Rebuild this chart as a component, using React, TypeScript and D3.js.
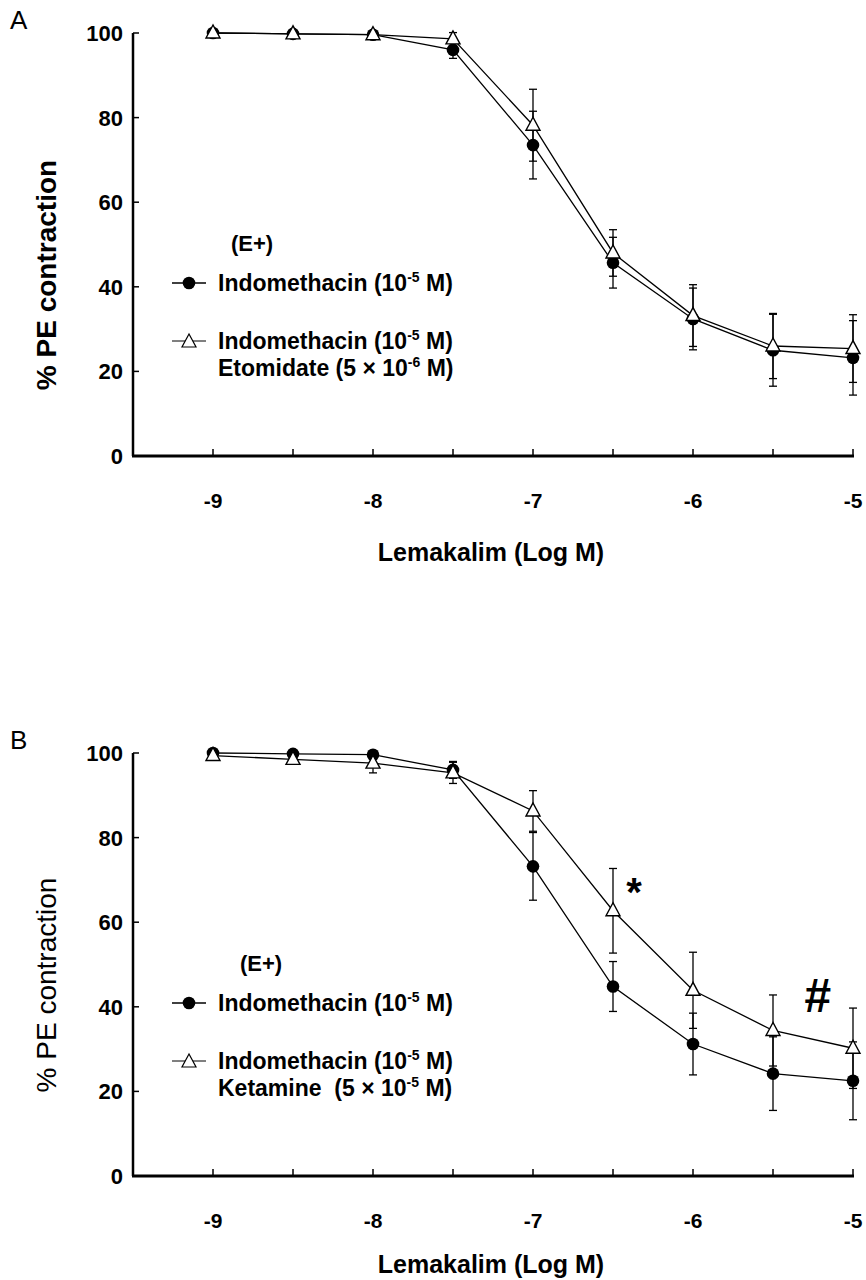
import React, { useEffect, useRef } from 'react';
import * as d3 from 'd3';

// Lemakalim dose (log M)
const doses = [-9, -8.5, -8, -7.5, -7, -6.5, -6, -5.5, -5];
const xTickValues = [-9, -8.5, -8, -7.5, -7, -6.5, -6, -5.5, -5];
const xTickLabels = [-9, -8, -7, -6, -5];
const yTickValues = [0, 20, 40, 60, 80, 100];

// Panel A: indomethacin vs indomethacin + etomidate
const aIndoMean = [100, 99.8, 99.6, 96, 73.5, 45.7, 32.4, 25, 23.2];
const aIndoErr = [0, 0, 0, 2, 8, 6, 7.3, 8.5, 8.8];
const aEtoMean = [100, 99.8, 99.6, 98.6, 78.2, 48, 33.2, 26, 25.4];
const aEtoErr = [0, 0, 0, 1.5, 8.5, 5.5, 7.3, 7.7, 8];

// Panel B: indomethacin vs indomethacin + ketamine
const bIndoMean = [100, 99.8, 99.6, 96, 73.2, 44.8, 31.2, 24.2, 22.5];
const bIndoErr = [0, 0, 0, 2, 8, 5.9, 7.3, 8.7, 9.2];
const bKetMean = [99.4, 98.5, 97.6, 95.3, 86.3, 62.7, 43.9, 34.4, 30.2];
const bKetErr = [0, 0, 2.3, 2.5, 4.8, 10, 9, 8.4, 9.5];

const FONT = "'Liberation Sans', Arial, Helvetica, sans-serif";

interface PanelOpts {
  letter: string;
  top: number; // pixel of y = 100
  bottom: number; // pixel of y = 0
  yTitleBold: boolean;
  yTitleCenter: number;
  xTitleY: number;
  indoMean: number[];
  indoErr: number[];
  otherMean: number[];
  otherErr: number[];
  legendDrug: string;
  legendDrugExp: string;
  legendDrugEnd: string;
  ePlusX: number;
}

function drawPanel(svg: d3.Selection<SVGSVGElement, unknown, null, undefined>, o: PanelOpts) {
  const x = d3.scaleLinear().domain([-9.5, -5]).range([133, 853]);
  const y = d3.scaleLinear().domain([0, 100]).range([o.bottom, o.top]);
  const g = svg.append('g').attr('font-family', FONT);

  // panel letter
  g.append('text')
    .attr('x', 10).attr('y', o.top - 4)
    .attr('font-size', 26)
    .text(o.letter);

  // y axis
  g.append('line')
    .attr('x1', x(-9.5)).attr('x2', x(-9.5))
    .attr('y1', y(100)).attr('y2', y(0))
    .attr('stroke', '#000').attr('stroke-width', 2.5);
  g.selectAll('.ytick').data(yTickValues).enter().append('line')
    .attr('x1', x(-9.5)).attr('x2', x(-9.5) + 6)
    .attr('y1', d => y(d)).attr('y2', d => y(d))
    .attr('stroke', '#000').attr('stroke-width', 1.5);
  g.selectAll('.ylab').data(yTickValues).enter().append('text')
    .attr('x', 123).attr('y', d => y(d) + 8)
    .attr('text-anchor', 'end')
    .attr('font-size', 22).attr('font-weight', 'bold')
    .text(d => d);

  // x axis
  g.append('line')
    .attr('x1', x(-9.5) - 1).attr('x2', x(-5) + 1)
    .attr('y1', y(0)).attr('y2', y(0))
    .attr('stroke', '#000').attr('stroke-width', 3);
  g.selectAll('.xtick').data(xTickValues).enter().append('line')
    .attr('x1', d => x(d)).attr('x2', d => x(d))
    .attr('y1', y(0)).attr('y2', y(0) - 7)
    .attr('stroke', '#000').attr('stroke-width', 1.5);
  g.selectAll('.xlab').data(xTickLabels).enter().append('text')
    .attr('x', d => x(d)).attr('y', y(0) + 52)
    .attr('text-anchor', 'middle')
    .attr('font-size', 21).attr('font-weight', 'bold')
    .text(d => d);

  // axis titles
  g.append('text')
    .attr('x', 491).attr('y', o.xTitleY)
    .attr('text-anchor', 'middle')
    .attr('font-size', 25).attr('font-weight', 'bold')
    .text('Lemakalim (Log M)');
  g.append('text')
    .attr('transform', `translate(56,${o.yTitleCenter}) rotate(-90)`)
    .attr('text-anchor', 'middle')
    .attr('font-size', 28).attr('font-weight', o.yTitleBold ? 'bold' : 'normal')
    .text('% PE contraction');

  const line = d3.line<number>()
    .x((_, i) => x(doses[i]))
    .y(d => y(d));

  const drawErr = (mean: number[], err: number[]) => {
    const data = mean.map((m, i) => ({ x: doses[i], m, e: err[i] })).filter(d => d.e > 0);
    const eg = g.append('g').attr('stroke', '#000').attr('stroke-width', 1.3);
    eg.selectAll('.v').data(data).enter().append('line')
      .attr('x1', d => x(d.x)).attr('x2', d => x(d.x))
      .attr('y1', d => y(d.m - d.e)).attr('y2', d => y(d.m + d.e));
    eg.selectAll('.t').data(data).enter().append('line')
      .attr('x1', d => x(d.x) - 4).attr('x2', d => x(d.x) + 4)
      .attr('y1', d => y(d.m + d.e)).attr('y2', d => y(d.m + d.e));
    eg.selectAll('.b').data(data).enter().append('line')
      .attr('x1', d => x(d.x) - 4).attr('x2', d => x(d.x) + 4)
      .attr('y1', d => y(d.m - d.e)).attr('y2', d => y(d.m - d.e));
  };

  drawErr(o.indoMean, o.indoErr);
  drawErr(o.otherMean, o.otherErr);

  g.append('path').datum(o.indoMean)
    .attr('d', line).attr('fill', 'none').attr('stroke', '#000').attr('stroke-width', 1.3);
  g.append('path').datum(o.otherMean)
    .attr('d', line).attr('fill', 'none').attr('stroke', '#000').attr('stroke-width', 1.3);

  const tri = (cx: number, cy: number) =>
    `M${cx},${cy - 8}L${cx - 7},${cy + 5}L${cx + 7},${cy + 5}Z`;

  g.selectAll('.dot').data(o.indoMean).enter().append('circle')
    .attr('cx', (_, i) => x(doses[i])).attr('cy', d => y(d))
    .attr('r', 6.3).attr('fill', '#000');
  g.selectAll('.tri').data(o.otherMean).enter().append('path')
    .attr('d', (d, i) => tri(x(doses[i]), y(d)))
    .attr('fill', '#fff').attr('stroke', '#000').attr('stroke-width', 1.4);

  // legend
  const ly0 = y(0) - 173;
  g.append('text')
    .attr('x', o.ePlusX).attr('y', ly0 - 32)
    .attr('font-size', 22).attr('font-weight', 'bold')
    .text('(E+)');

  const lx = 172;
  const legendX = 218;
  g.append('line').attr('x1', lx).attr('x2', lx + 34).attr('y1', ly0).attr('y2', ly0)
    .attr('stroke', '#000').attr('stroke-width', 1.3);
  g.append('circle').attr('cx', lx + 17).attr('cy', ly0).attr('r', 6.3).attr('fill', '#000');
  const addIndo = (ty: number) => {
    const t = g.append('text').attr('x', legendX).attr('y', ty)
      .attr('font-size', 23).attr('font-weight', 'bold');
    t.append('tspan').text('Indomethacin (10');
    t.append('tspan').attr('font-size', 14).attr('dy', -9).text('-5');
    t.append('tspan').attr('dy', 9).text(' M)');
  };
  addIndo(ly0 + 8);

  const ly1 = ly0 + 58;
  g.append('line').attr('x1', lx).attr('x2', lx + 34).attr('y1', ly1).attr('y2', ly1)
    .attr('stroke', '#000').attr('stroke-width', 1);
  g.append('path').attr('d', tri(lx + 17, ly1 + 1))
    .attr('fill', '#fff').attr('stroke', '#000').attr('stroke-width', 1.2);
  addIndo(ly1 + 8);
  const t2 = g.append('text').attr('x', legendX).attr('y', ly1 + 35)
    .attr('font-size', 23).attr('font-weight', 'bold')
    .style('white-space', 'pre');
  t2.append('tspan').text(o.legendDrug);
  t2.append('tspan').attr('font-size', 14).attr('dy', -9).text(o.legendDrugExp);
  t2.append('tspan').attr('dy', 9).text(o.legendDrugEnd);
}

export default function App() {
  const svgRef = useRef<SVGSVGElement>(null);

  useEffect(() => {
    document.body.style.margin = '0';
    if (!svgRef.current) return;
    const svg = d3.select(svgRef.current);
    svg.selectAll('*').remove();
    svg.append('rect').attr('width', 866).attr('height', 1280).attr('fill', '#fff');

    drawPanel(svg, {
      letter: 'A', top: 33, bottom: 456, yTitleBold: true,
      yTitleCenter: 275, xTitleY: 561,
      indoMean: aIndoMean, indoErr: aIndoErr,
      otherMean: aEtoMean, otherErr: aEtoErr,
      legendDrug: 'Etomidate (5 \u00d7 10', legendDrugExp: '-6', legendDrugEnd: ' M)',
      ePlusX: 231,
    });

    drawPanel(svg, {
      letter: 'B', top: 753, bottom: 1176, yTitleBold: false,
      yTitleCenter: 985, xTitleY: 1273,
      indoMean: bIndoMean, indoErr: bIndoErr,
      otherMean: bKetMean, otherErr: bKetErr,
      legendDrug: 'Ketamine  (5 \u00d7 10', legendDrugExp: '-5', legendDrugEnd: ' M)',
      ePlusX: 240,
    });

    // significance marks on panel B
    const x = d3.scaleLinear().domain([-9.5, -5]).range([133, 853]);
    const y = d3.scaleLinear().domain([0, 100]).range([1176, 753]);
    svg.append('text')
      .attr('x', x(-6.5) + 21).attr('y', y(70) + 26)
      .attr('text-anchor', 'middle')
      .attr('font-family', FONT).attr('font-size', 40).attr('font-weight', 'bold')
      .text('*');
    svg.append('text')
      .attr('x', x(-5.5) + 44).attr('y', y(45) + 26)
      .attr('text-anchor', 'middle')
      .attr('font-family', FONT).attr('font-size', 48).attr('font-weight', 'bold')
      .attr('font-style', 'italic')
      .text('#');
  }, []);

  return <svg ref={svgRef} width={866} height={1280} style={{ display: 'block' }} />;
}
